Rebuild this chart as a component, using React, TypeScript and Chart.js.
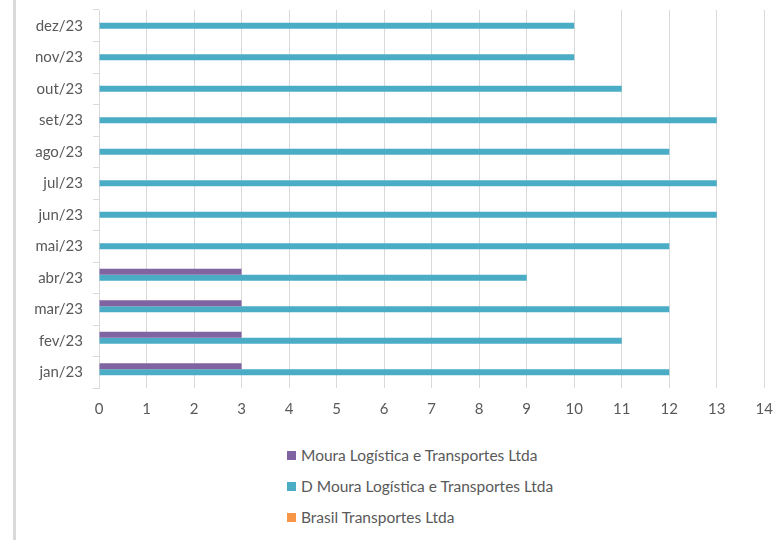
import React, { useEffect, useRef } from "react";
import { Chart, registerables } from "chart.js";

Chart.register(...registerables);

const categories = ["jan/23", "fev/23", "mar/23", "abr/23", "mai/23", "jun/23", "jul/23", "ago/23", "set/23", "out/23", "nov/23", "dez/23"];
const mouraLogistica = [3, 3, 3, 3, null, null, null, null, null, null, null, null];
const dMouraLogistica = [12, 11, 12, 9, 12, 13, 13, 12, 13, 11, 10, 10];
const brasilTransportes = [null, null, null, null, null, null, null, null, null, null, null, null];
const seriesNames = ["Moura Logística e Transportes Ltda", "D Moura Logística e Transportes Ltda", "Brasil Transportes Ltda"];
const seriesColors = ["#8064A2", "#4BACC6", "#F79646"];
const xTicks = { min: 0, max: 14, step: 1 };

const FONT = "Lato";
const TEXT = "#595959";
const GRID = "#d9d9d9";

export default function App() {
  const canvasRef = useRef<HTMLCanvasElement | null>(null);

  useEffect(() => {
    if (!canvasRef.current) return;
    const chart = new Chart(canvasRef.current, {
      type: "bar",
      data: {
        labels: categories,
        datasets: [
          { label: seriesNames[0], data: mouraLogistica, backgroundColor: seriesColors[0] },
          { label: seriesNames[1], data: dMouraLogistica, backgroundColor: seriesColors[1] },
          { label: seriesNames[2], data: brasilTransportes, backgroundColor: seriesColors[2] },
        ],
      },
      options: {
        indexAxis: "y",
        animation: false,
        responsive: false,
        devicePixelRatio: 1,
        layout: { padding: 0 },
        datasets: { bar: { barPercentage: 1, categoryPercentage: 0.57, borderWidth: 0 } },
        plugins: { legend: { display: false }, tooltip: { enabled: false } },
        scales: {
          x: {
            type: "linear",
            min: xTicks.min,
            max: xTicks.max,
            ticks: { stepSize: xTicks.step, color: TEXT, font: { family: FONT, size: 15 }, padding: 12 },
            grid: { color: GRID, lineWidth: 1, drawTicks: false },
            border: { display: false },
            afterFit: (s: any) => { s.height = 37; },
          },
          y: {
            type: "category",
            reverse: true,
            ticks: { color: TEXT, font: { family: FONT, size: 15 }, padding: 10 },
            grid: { color: GRID, drawOnChartArea: false, drawTicks: true, tickLength: 6, offset: true },
            border: { display: true, color: GRID },
            afterFit: (s: any) => { s.width = 99; },
          },
        },
      },
    });
    return () => chart.destroy();
  }, []);

  const legendTops = [455, 486, 517];

  return (
    <div style={{ position: "fixed", left: 0, top: 0, width: 773, height: 540, background: "#fff", overflow: "hidden", fontFamily: FONT }}>
      <div style={{ position: "absolute", left: 13, top: 0, width: 3, height: 540, background: "#d9d9d9" }} />
      <canvas ref={canvasRef} width={785} height={434} style={{ position: "absolute", left: 0, top: -9, width: 785, height: 434 }} />
      {seriesNames.map((name, i) => (
        <div key={name} style={{ position: "absolute", left: 287, top: legendTops[i] - 10, height: 20, display: "flex", alignItems: "center", whiteSpace: "nowrap" }}>
          <span style={{ display: "inline-block", width: 9, height: 9, background: seriesColors[i], marginRight: 5 }} />
          <span style={{ color: TEXT, fontSize: 15.5, lineHeight: "20px" }}>{name}</span>
        </div>
      ))}
    </div>
  );
}
